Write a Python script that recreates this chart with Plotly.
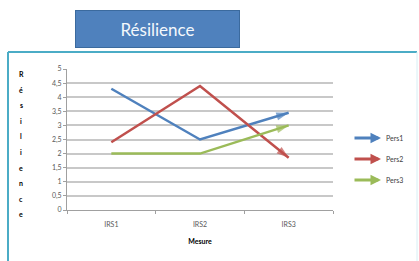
import plotly.graph_objects as go

categories = ["IRS1", "IRS2", "IRS3"]
pers1 = [4.3, 2.5, 3.45]
pers2 = [2.4, 4.4, 1.85]
pers3 = [2.0, 2.0, 3.0]
series_names = ["Pers1", "Pers2", "Pers3"]
colors = ["#4F81BD", "#C0504D", "#9BBB59"]
y_ticks = [0, 0.5, 1, 1.5, 2, 2.5, 3, 3.5, 4, 4.5, 5]

W, H = 419, 261
L, R, T, B = 67, 86, 69, 51
pw, ph = W - L - R, H - T - B

def px(x):
    return (x - L) / pw

def py(y):
    return (H - B - y) / ph

fig = go.Figure()
for name, vals, c in zip(series_names, [pers1, pers2, pers3], colors):
    fig.add_trace(go.Scatter(
        x=categories, y=vals, name=name, mode="lines+markers",
        line=dict(color=c, width=2.5),
        marker=dict(symbol="arrow", angleref="previous",
                    size=[0] * (len(vals) - 1) + [13], color=c,
                    line=dict(width=0)),
        showlegend=False, hoverinfo="skip"))

fnt = "Lato, 'Liberation Sans', sans-serif"
ann = []
# Title box
ann.append(dict(text="Résilience", xref="paper", yref="paper",
                x=px(157.5), y=py(29), xanchor="center", yanchor="middle",
                showarrow=False,
                font=dict(family=fnt, size=17, color="#F4F8FC"),
                bgcolor="#4F81BD", bordercolor="#3B6A9E", borderwidth=1,
                width=161, height=34))
# Vertical stacked y-axis title
letters = list("Résilience")
for i, ch in enumerate(letters):
    ann.append(dict(text="<b>%s</b>" % ch, xref="paper", yref="paper",
                    x=px(21), y=py(74 + i * 15.6), xanchor="center",
                    yanchor="middle", showarrow=False,
                    font=dict(family=fnt, size=7, color="#000000")))
# Legend with arrows
leg_y = [138, 159, 180]
for name, c, yy in zip(series_names, colors, leg_y):
    ann.append(dict(text="", xref="paper", yref="paper", x=px(381), y=py(yy),
                    ax=-28, ay=0, showarrow=True, arrowhead=2, arrowsize=0.7,
                    arrowwidth=3, arrowcolor=c, standoff=0))
    ann.append(dict(text=name, xref="paper", yref="paper", x=px(384), y=py(yy),
                    xanchor="left", yanchor="middle", showarrow=False,
                    font=dict(family=fnt, size=7, color="#404040")))

frame = dict(color="#4BACC6", width=2)
shapes = [
    dict(type="line", xref="paper", yref="paper", x0=px(8), x1=px(417),
         y0=py(52), y1=py(52), line=frame, layer="below"),
    dict(type="line", xref="paper", yref="paper", x0=px(8), x1=px(8),
         y0=py(52), y1=py(270), line=frame, layer="below"),
    dict(type="line", xref="paper", yref="paper", x0=px(417), x1=px(417),
         y0=py(52), y1=py(270), line=dict(color="#D8EEF4", width=1), layer="below"),
]

fig.update_layout(
    width=W, height=H, margin=dict(l=L, r=R, t=T, b=B),
    paper_bgcolor="#FFFFFF", plot_bgcolor="#FFFFFF",
    separators=", ",
    font=dict(family=fnt, size=7, color="#595959"),
    annotations=ann, shapes=shapes,
    xaxis=dict(type="category", categoryorder="array", categoryarray=categories,
               showgrid=False, showline=True, linecolor="#A0A0A0", linewidth=1,
               ticks="outside", tickson="boundaries", ticklen=3, tickcolor="#A0A0A0",
               range=[-0.5, 2.5], ticklabelstandoff=8,
               title=dict(text="<b>Mesure</b>", font=dict(size=7, color="#000000"),
                          standoff=11),
               tickfont=dict(size=7, color="#595959")),
    yaxis=dict(range=[0, 5], tickvals=y_ticks, showgrid=True,
               gridcolor="#C8C8C8", gridwidth=1.5, showline=True,
               linecolor="#A0A0A0", linewidth=1, ticks="outside", ticklen=3,
               tickcolor="#A0A0A0", zeroline=False,
               tickfont=dict(size=7, color="#595959")),
)

fig.write_html("out.html", config={"displayModeBar": False},
               post_script="document.body.style.margin='0';")
